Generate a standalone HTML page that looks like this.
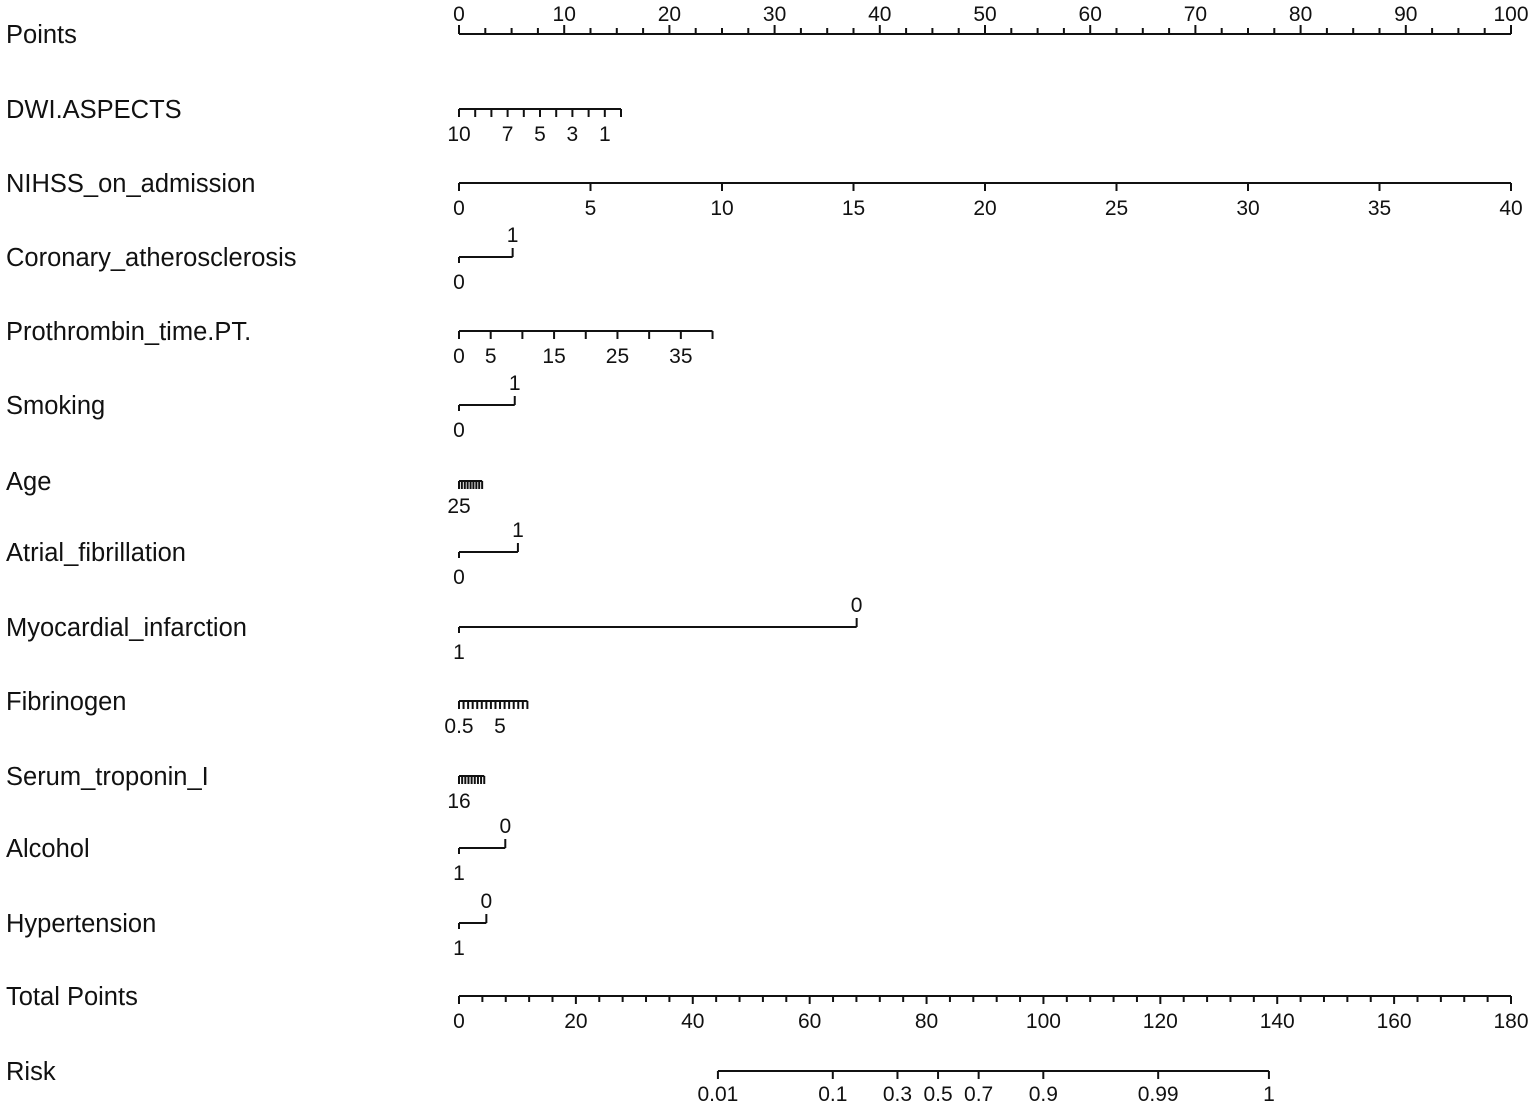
<!DOCTYPE html>
<html><head><meta charset="utf-8"><style>
html,body{margin:0;padding:0;background:#fff;}
svg{display:block;font-family:"Liberation Sans",Arial,sans-serif;}
</style></head><body>
<svg id="nomo" width="1535" height="1108" viewBox="0 0 1535 1108" xmlns="http://www.w3.org/2000/svg"></svg>
<script>
// ---- data ----
const rowNames = ["Points","DWI.ASPECTS","NIHSS_on_admission","Coronary_atherosclerosis","Prothrombin_time.PT.","Smoking","Age","Atrial_fibrillation","Myocardial_infarction","Fibrinogen","Serum_troponin_I","Alcohol","Hypertension","Total Points","Risk"];
const rowY = [34,109,183,257,331,405,481,552,627,701,776,848,923,996,1071];
const dwiPoints = [0,1.54,3.08,4.62,6.16,7.7,9.24,10.78,12.32,13.86,15.4];
const dwiLabels = ["10","","","7","","5","","3","","1",""];
const nihssValues = [0,5,10,15,20,25,30,35,40];
const nihssMaxPoints = 100;
const coronaryPoints = [0,5.1];
const coronaryLabels = ["0","1"];
const ptValues = [0,5,10,15,20,25,30,35,40];
const ptLabels = ["0","5","","15","","25","","35",""];
const ptMaxPoints = 24.1;
const smokingPoints = [0,5.3];
const smokingLabels = ["0","1"];
const agePoints = [0,0.27,0.55,0.82,1.1,1.37,1.65,1.92,2.2];
const ageLabels = ["25","","","","","","","",""];
const atrialPoints = [0,5.6];
const atrialLabels = ["0","1"];
const miPoints = [0,37.8];
const miLabels = ["1","0"];
const fibValues = [0.5,1,1.5,2,2.5,3,3.5,4,4.5,5,5.5,6,6.5,7,7.5,8];
const fibLabels = ["0.5","","","","","","","","","5","","","","","",""];
const fibMaxPoints = 6.5;
const tropPoints = [0,0.3,0.6,0.9,1.2,1.5,1.8,2.1,2.4];
const tropLabels = ["16","","","","","","","",""];
const alcoholPoints = [0,4.4];
const alcoholLabels = ["1","0"];
const htnPoints = [0,2.6];
const htnLabels = ["1","0"];
const totalMax = 180;
const riskTicks = [0.01,0.1,0.3,0.5,0.7,0.9,0.99,0.999];
const riskLabels = ["0.01","0.1","0.3","0.5","0.7","0.9","0.99","1"];
const riskIntercept = -10.0, riskSlope = 0.122;

// ---- scales ----
const X0 = 459, X1 = 1511;
const px = p => X0 + p/100*(X1-X0);
const tx = t => X0 + t/totalMax*(X1-X0);
const svg = document.getElementById('nomo');
const NS = "http://www.w3.org/2000/svg";
const TF = 21;
function line(x1,y1,x2,y2,name){
  const l=document.createElementNS(NS,'line');
  l.setAttribute('x1',x1);l.setAttribute('y1',y1);l.setAttribute('x2',x2);l.setAttribute('y2',y2);
  l.setAttribute('stroke','#111');l.setAttribute('stroke-width','2');
  
  
  svg.appendChild(l);
}
function text(x,y,s,size,anchor,name){
  const t=document.createElementNS(NS,'text');
  t.setAttribute('x',x);t.setAttribute('y',y);t.setAttribute('font-size',size);
  t.setAttribute('text-anchor',anchor);t.setAttribute('fill','#111');
  t.textContent=s;
  
  
  svg.appendChild(t);
}
rowNames.forEach((n,i)=>{ text(6,rowY[i]+9,n,25.5,'start','row-label'); });

function axisBelow(y, xs, labels, tickLen){
  line(xs[0],y,xs[xs.length-1],y,'axis-line');
  xs.forEach((x,i)=>{
    line(x,y,x,y+tickLen,'axis-tick');
    if(labels[i]) text(x,y+32,labels[i],TF,'middle','tick-label');
  });
}
function axisBinary(y, xs, labels){
  line(xs[0],y,xs[1],y,'axis-line');
  line(xs[0],y,xs[0],y+6,'axis-tick');
  line(xs[1],y,xs[1],y-9,'axis-tick');
  text(xs[0],y+32,labels[0],TF,'middle','tick-label');
  text(xs[1],y-15,labels[1],TF,'middle','tick-label');
}

line(px(0),rowY[0],px(100),rowY[0],'points-axis-line');
for(let v=0; v<=100; v+=2.5){
  const major = v%10===0;
  line(px(v),rowY[0],px(v),rowY[0]-(major?9:6),'points-tick');
  if(major) text(px(v),rowY[0]-13,String(v),TF,'middle','points-tick-label');
}
axisBelow(rowY[1], dwiPoints.map(px), dwiLabels, 8);
axisBelow(rowY[2], nihssValues.map(v=>px(v/40*nihssMaxPoints)), nihssValues.map(String), 8);
axisBinary(rowY[3], coronaryPoints.map(px), coronaryLabels);
axisBelow(rowY[4], ptValues.map(v=>px(v/40*ptMaxPoints)), ptLabels, 8);
axisBinary(rowY[5], smokingPoints.map(px), smokingLabels);
axisBelow(rowY[6], agePoints.map(px), ageLabels, 8);
axisBinary(rowY[7], atrialPoints.map(px), atrialLabels);
axisBinary(rowY[8], miPoints.map(px), miLabels);
axisBelow(rowY[9], fibValues.map(v=>px((v-0.5)/7.5*fibMaxPoints)), fibLabels, 8);
axisBelow(rowY[10], tropPoints.map(px), tropLabels, 8);
axisBinary(rowY[11], alcoholPoints.map(px), alcoholLabels);
axisBinary(rowY[12], htnPoints.map(px), htnLabels);

line(tx(0),rowY[13],tx(totalMax),rowY[13],'total-axis-line');
for(let v=0; v<=totalMax; v+=4){
  const major = v%20===0;
  line(tx(v),rowY[13],tx(v),rowY[13]+(major?8:6),'total-tick');
  if(major) text(tx(v),rowY[13]+32,String(v),TF,'middle','total-tick-label');
}
const riskX = riskTicks.map(p=>tx((Math.log(p/(1-p))-riskIntercept)/riskSlope));
line(riskX[0],rowY[14],riskX[riskX.length-1],rowY[14],'risk-axis-line');
riskX.forEach((x,i)=>{
  line(x,rowY[14],x,rowY[14]+8,'risk-tick');
  text(x,rowY[14]+30,riskLabels[i],TF,'middle','risk-tick-label');
});
</script>
</body></html>
